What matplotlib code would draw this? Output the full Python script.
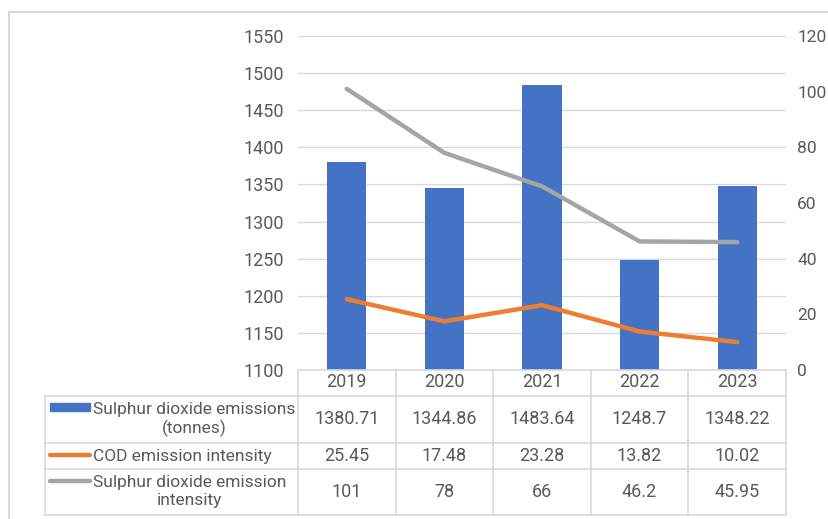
import matplotlib.pyplot as plt
from matplotlib.lines import Line2D
from matplotlib.patches import Rectangle

years = ['2019', '2020', '2021', '2022', '2023']
so2_tonnes = [1380.71, 1344.86, 1483.64, 1248.7, 1348.22]
cod_intensity = [25.45, 17.48, 23.28, 13.82, 10.02]
so2_intensity = [101, 78, 66, 46.2, 45.95]

so2_tonnes_text = ['1380.71', '1344.86', '1483.64', '1248.7', '1348.22']
cod_text = ['25.45', '17.48', '23.28', '13.82', '10.02']
so2_int_text = ['101', '78', '66', '46.2', '45.95']

row_labels = ['Sulphur dioxide emissions\n(tonnes)',
              'COD emission intensity',
              'Sulphur dioxide emission\nintensity']

BLUE = '#4472C4'
ORANGE = '#ED7D31'
GRAY = '#A5A5A5'
TXT = '#595959'
GRID = '#D9D9D9'

plt.rcParams['font.family'] = ['Roboto', 'DejaVu Sans']

W, H = 829, 519
fig = plt.figure(figsize=(W / 100, H / 100), dpi=100)


def fx(px):
    return px / W


def fy(py):
    return 1 - py / H


# outer chart border (top and left visible)
fig.add_artist(Line2D([fx(9), 1], [fy(12), fy(12)], color=GRID, lw=1.5))
fig.add_artist(Line2D([fx(9), fx(9)], [fy(12), 0], color=GRID, lw=1.5))

left, right, top, bottom = 298, 786, 36, 370
ax = fig.add_axes([fx(left), fy(bottom), fx(right - left), (bottom - top) / H])
x = range(len(years))
ax.bar(x, so2_tonnes, width=0.4, color=BLUE, zorder=2)
ax.set_xlim(-0.5, len(years) - 0.5)
ax.set_ylim(1100, 1550)
ax.set_yticks(range(1100, 1551, 50))
ax.yaxis.grid(True, color=GRID, lw=1)
ax.set_axisbelow(True)
ax.set_xticks([])
for s in ax.spines.values():
    s.set_visible(False)
ax.tick_params(axis='y', length=0, pad=10, labelsize=13, labelcolor=TXT)

ax2 = ax.twinx()
ax2.plot(x, so2_intensity, color=GRAY, lw=3.2, solid_capstyle='round', zorder=3)
ax2.plot(x, cod_intensity, color=ORANGE, lw=3.2, solid_capstyle='round', zorder=3)
ax2.set_ylim(0, 120)
ax2.set_yticks(range(0, 121, 20))
for s in ax2.spines.values():
    s.set_visible(False)
ax2.tick_params(axis='y', length=0, pad=8, labelsize=12.5, labelcolor=TXT)

# data table below the plot
rows_y = [370, 396, 443, 469, 515]
col_edges = [left + i * (right - left) / len(years) for i in range(len(years) + 1)]
lab_left = 45
line_kw = dict(color=GRID, lw=1.2)

for i, yy in enumerate(rows_y):
    x0 = left if i == 0 else lab_left
    fig.add_artist(Line2D([fx(x0), fx(right)], [fy(yy), fy(yy)], **line_kw))
for xe in col_edges:
    fig.add_artist(Line2D([fx(xe), fx(xe)], [fy(rows_y[0]), fy(rows_y[-1])], **line_kw))
fig.add_artist(Line2D([fx(lab_left), fx(lab_left)], [fy(rows_y[1]), fy(rows_y[-1])], **line_kw))

for j, yr in enumerate(years):
    cx = (col_edges[j] + col_edges[j + 1]) / 2
    fig.text(fx(cx), fy((rows_y[0] + rows_y[1]) / 2 - 1), yr, ha='center', va='center',
             fontsize=13, color=TXT)

table_rows = [so2_tonnes_text, cod_text, so2_int_text]
for r, vals in enumerate(table_rows):
    cy = (rows_y[r + 1] + rows_y[r + 2]) / 2
    for j, v in enumerate(vals):
        cx = (col_edges[j] + col_edges[j + 1]) / 2
        fig.text(fx(cx), fy(cy), v, ha='center', va='center', fontsize=13, color=TXT)
    fig.text(fx(93), fy(cy), row_labels[r], ha='left', va='center', fontsize=12.5,
             color=TXT, linespacing=1.25, multialignment='center')

# legend keys
fig.add_artist(Rectangle((fx(50), fy(411)), fx(40), 8 / H, color=BLUE))
key_y = [455, 481]
for ky, c in zip(key_y, [ORANGE, GRAY]):
    fig.add_artist(Line2D([fx(50), fx(90)], [fy(ky), fy(ky)], color=c, lw=3.2,
                          solid_capstyle='round'))

fig.savefig('out.png', dpi=100)
